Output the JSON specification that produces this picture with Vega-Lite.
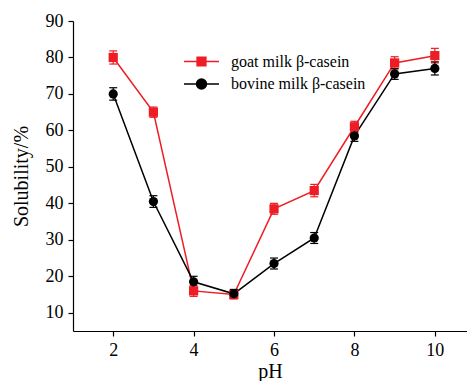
{
  "$schema": "https://vega.github.io/schema/vega-lite/v6.json",
  "width": 394,
  "height": 310,
  "autosize": {"type": "none"},
  "padding": {"left": 73, "top": 21, "right": 0, "bottom": 50},
  "background": "white",
  "config": {
    "view": {"stroke": null},
    "font": "Liberation Serif",
    "axis": {"grid": false, "domainColor": "black", "tickColor": "black", "labelColor": "black", "titleColor": "black", "labelFont": "Liberation Serif", "titleFont": "Liberation Serif", "labelFontSize": 18, "titleFontSize": 20, "titleFontWeight": "normal", "tickSize": 5, "domainWidth": 1.2, "tickWidth": 1.2, "labelOverlap": false, "labelFlush": false}
  },
  "data": {
    "values": [
      {"pH": 2, "series": "goat milk β-casein", "marker": "square", "v": 80, "lo": 78.2, "hi": 81.8},
      {"pH": 3, "series": "goat milk β-casein", "marker": "square", "v": 65, "lo": 63.6, "hi": 66.4},
      {"pH": 4, "series": "goat milk β-casein", "marker": "square", "v": 16, "lo": 14.5, "hi": 17.5},
      {"pH": 5, "series": "goat milk β-casein", "marker": "square", "v": 15, "lo": 13.8, "hi": 16.2},
      {"pH": 6, "series": "goat milk β-casein", "marker": "square", "v": 38.5, "lo": 37, "hi": 40},
      {"pH": 7, "series": "goat milk β-casein", "marker": "square", "v": 43.5, "lo": 41.8, "hi": 45.2},
      {"pH": 8, "series": "goat milk β-casein", "marker": "square", "v": 61, "lo": 59.5, "hi": 62.5},
      {"pH": 9, "series": "goat milk β-casein", "marker": "square", "v": 78.5, "lo": 76.8, "hi": 80.2},
      {"pH": 10, "series": "goat milk β-casein", "marker": "square", "v": 80.5, "lo": 78.5, "hi": 82.5},
      {"pH": 2, "series": "bovine milk β-casein", "marker": "circle", "v": 70, "lo": 68.3, "hi": 71.7},
      {"pH": 3, "series": "bovine milk β-casein", "marker": "circle", "v": 40.5, "lo": 38.9, "hi": 42.1},
      {"pH": 4, "series": "bovine milk β-casein", "marker": "circle", "v": 18.5, "lo": 17, "hi": 20},
      {"pH": 5, "series": "bovine milk β-casein", "marker": "circle", "v": 15.2, "lo": 14, "hi": 16.4},
      {"pH": 6, "series": "bovine milk β-casein", "marker": "circle", "v": 23.5, "lo": 22, "hi": 25},
      {"pH": 7, "series": "bovine milk β-casein", "marker": "circle", "v": 30.5, "lo": 29, "hi": 32},
      {"pH": 8, "series": "bovine milk β-casein", "marker": "circle", "v": 58.5, "lo": 57, "hi": 60},
      {"pH": 9, "series": "bovine milk β-casein", "marker": "circle", "v": 75.5, "lo": 74, "hi": 77},
      {"pH": 10, "series": "bovine milk β-casein", "marker": "circle", "v": 77, "lo": 75.2, "hi": 78.8}
    ]
  },
  "encoding": {
    "x": {"field": "pH", "type": "quantitative", "scale": {"domain": [1, 10.8], "nice": false, "zero": false}, "axis": {"values": [2, 4, 6, 8, 10], "title": "pH", "titlePadding": 2, "labelPadding": 5}},
    "color": {"field": "series", "type": "nominal", "scale": {"domain": ["goat milk β-casein", "bovine milk β-casein"], "range": ["#ee1c24", "#000000"]}, "legend": null}
  },
  "layer": [
    {
      "mark": {"type": "line", "strokeWidth": 1.5},
      "encoding": {"y": {"field": "v", "type": "quantitative", "scale": {"domain": [5, 90], "nice": false, "zero": false}, "axis": {"values": [10, 20, 30, 40, 50, 60, 70, 80, 90], "tickCount": 9, "title": "Solubility/%", "titlePadding": 14, "labelPadding": 5, "labelOverlap": false}}}
    },
    {
      "mark": {"type": "errorbar", "ticks": {"size": 8, "opacity": 1}, "rule": {"opacity": 1}, "thickness": 1.2},
      "encoding": {"y": {"field": "lo", "type": "quantitative", "title": "Solubility/%", "axis": {"values": [10, 20, 30, 40, 50, 60, 70, 80, 90], "tickCount": 9, "labelOverlap": false}}, "y2": {"field": "hi"}}
    },
    {
      "mark": {"type": "point", "filled": true, "opacity": 1},
      "encoding": {
        "y": {"field": "v", "type": "quantitative"},
        "shape": {"field": "marker", "type": "nominal", "scale": {"domain": ["square", "circle"], "range": ["square", "circle"]}, "legend": null},
        "size": {"value": 85}
      }
    },
    {
      "transform": [{"filter": "datum.pH > 100"}],
      "mark": {"type": "point", "filled": true, "opacity": 1},
      "encoding": {
        "y": {"field": "v", "type": "quantitative"},
        "shape": {"field": "series", "type": "nominal", "scale": {"domain": ["goat milk β-casein", "bovine milk β-casein"], "range": ["M-2,0H2M-0.5,-0.5H0.5V0.5H-0.5Z", "M-2,0H2M0.57,0A0.57,0.57 0 1,1 -0.57,0A0.57,0.57 0 1,1 0.57,0Z"]},
          "legend": {"title": null, "orient": "none", "legendX": 119, "legendY": 31, "symbolSize": 306, "symbolStrokeWidth": 1.5, "labelFont": "Liberation Serif", "labelFontSize": 16, "labelColor": "black", "rowPadding": 4.5, "labelOffset": 20,
            "symbolFillColor": {"expr": "datum.value == 'goat milk β-casein' ? '#ee1c24' : '#000000'"},
            "symbolStrokeColor": {"expr": "datum.value == 'goat milk β-casein' ? '#ee1c24' : '#000000'"}}}
      }
    }
  ],
  "resolve": {"scale": {"shape": "independent"}}
}
